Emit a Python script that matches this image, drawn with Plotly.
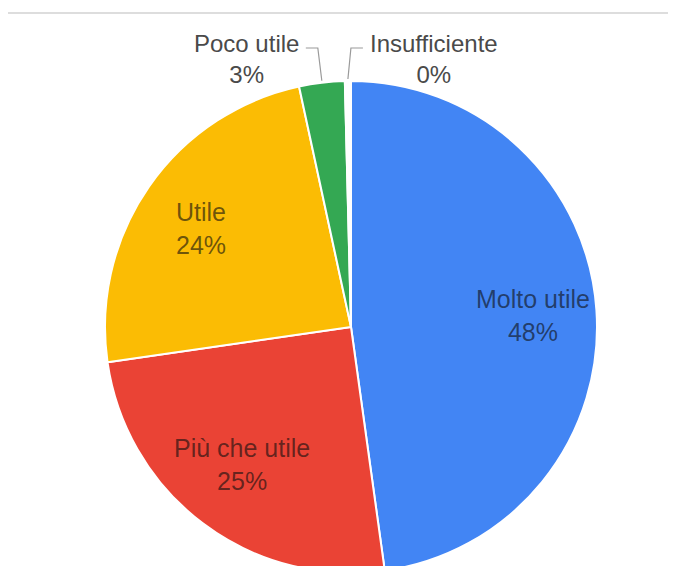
import numpy as np
import plotly.graph_objects as go

# ---- data ----
categories = ["Molto utile", "Più che utile", "Utile", "Poco utile", "Insufficiente"]
values = [48, 25, 24, 3, 0.4]
pct_labels = ["48%", "25%", "24%", "3%", "0%"]
colors = ["#4285F4", "#EA4335", "#FBBC04", "#34A853", "#FFFFFF"]

W, H = 676, 566
OFF = 8  # page body margin
# pie geometry (screen pixels)
cx, cy, r = 351, 327, 246

def px2paper(x, y):
    return (x - OFF) / W, 1 - (y - OFF) / H

FONT = "Liberation Sans, Arial"

fig = go.Figure()
x0, y0 = px2paper(cx - r, cy + r)
x1, y1 = px2paper(cx + r, cy - r)
fig.add_trace(go.Pie(
    labels=categories,
    values=values,
    text=pct_labels,
    textinfo="none",
    sort=False,
    direction="clockwise",
    rotation=0,
    marker=dict(colors=colors, line=dict(color="white", width=2)),
    domain=dict(x=[x0, x1], y=[max(y0, 0), y1]),
    hovertemplate="%{label}: %{text}<extra></extra>",
    showlegend=False,
))

frac = np.array(values) / np.sum(values)
cum = np.cumsum(frac)
mid = (cum - frac / 2) * 360.0

shapes = []
annotations = []

# labels inside the large slices
for idx in range(3):
    ang = np.deg2rad(mid[idx])
    lx = cx + 0.74 * r * np.sin(ang)
    ly = cy - 0.70 * r * np.cos(ang)
    px, py = px2paper(lx, ly)
    annotations.append(dict(
        x=px, y=py, xref="paper", yref="paper",
        text=categories[idx] + "<br>" + pct_labels[idx],
        showarrow=False, xanchor="center", yanchor="middle", align="center",
        font=dict(family=FONT, size=25, color="rgba(15,15,15,0.62)"),
    ))

# leader lines + outside labels for small slices
label_y = 48
for idx, side in [(3, -1), (4, 1)]:
    ang = np.deg2rad(mid[idx])
    ex = cx + r * np.sin(ang)
    ey = cy - r * np.cos(ang)
    kx = ex + (-4 if side < 0 else 3)
    hx = kx + side * 12
    pts = [px2paper(ex, ey - 2), px2paper(kx, label_y), px2paper(hx, label_y)]
    path = "M {} {} L {} {} L {} {}".format(pts[0][0], pts[0][1], pts[1][0], pts[1][1], pts[2][0], pts[2][1])
    shapes.append(dict(type="path", path=path, xref="paper", yref="paper",
                       line=dict(color="#9a9a9a", width=1.2)))
    tx, ty = px2paper(hx + side * 5, 28)
    annotations.append(dict(
        x=tx, y=ty, xref="paper", yref="paper",
        text=categories[idx] + "<br>" + pct_labels[idx],
        showarrow=False, xanchor="right" if side < 0 else "left", yanchor="top",
        align="center",
        font=dict(family=FONT, size=24, color="#4a4a4a"),
    ))

# thin top rule
lx0, ly = px2paper(8, 13)
shapes.append(dict(type="line", xref="paper", yref="paper",
                   x0=lx0, x1=1, y0=ly, y1=ly,
                   line=dict(color="#dddddd", width=2)))

fig.update_layout(
    width=W, height=H,
    margin=dict(l=0, r=0, t=0, b=0),
    paper_bgcolor="white", plot_bgcolor="white",
    shapes=shapes, annotations=annotations,
)

fig.write_html("out.html")
